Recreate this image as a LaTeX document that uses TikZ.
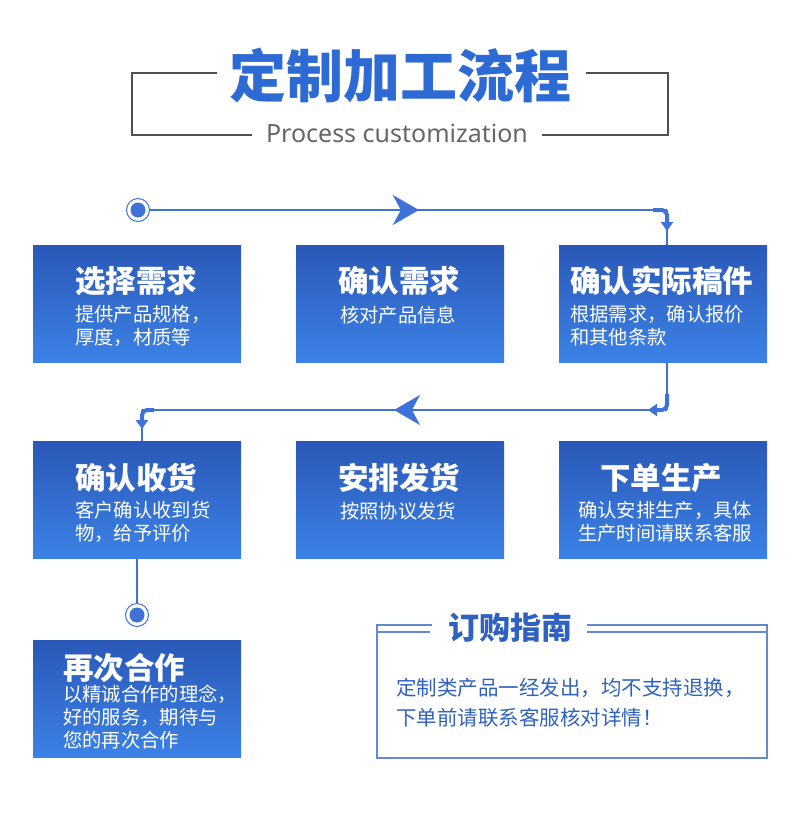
\documentclass[tikz,border=0pt]{standalone}
\usepackage{fontspec}
\setmainfont{Noto Sans CJK SC}
\newfontfamily\latinfont{Noto Sans}
\usetikzlibrary{positioning,arrows.meta,decorations.markings}
\definecolor{bluedark}{HTML}{2A58B8}
\definecolor{bluelight}{HTML}{3C82E6}
\definecolor{flowline}{HTML}{3F72D8}
\definecolor{titleblue}{HTML}{2D6AD4}
\definecolor{framegray}{HTML}{505050}
\definecolor{guideblue}{HTML}{2F62C0}

\begin{document}
\begin{tikzpicture}[x=1pt,y=-1pt,
  stepbox/.style={rectangle,minimum width=208pt,minimum height=117pt,inner sep=0pt,
    top color=bluedark,bottom color=bluelight,draw=none},
  boxtitle/.style={anchor=base west,inner sep=0pt,text=white,
    font=\fontsize{30.5}{32}\selectfont\bfseries},
  boxsub/.style={anchor=base west,inner sep=0pt,text=white,align=left,
    font=\fontsize{19.3}{22.5}\selectfont},
  flow/.style={draw=flowline,line width=1.4pt},
  turnarrow/.style={draw=flowline,line width=4pt,rounded corners=5pt,
    -{Triangle[length=9pt,width=12pt]}},
  midarrow/.style={postaction={decorate},decoration={markings,
    mark=at position #1 with {\arrow[flowline]{Stealth[length=26pt,width=30pt,inset=8pt]}}}},
  dotring/.style={circle,draw=flowline,line width=1pt,fill=white,minimum size=23pt,inner sep=0pt,
    path picture={\fill[flowline] (path picture bounding box.center) circle (7.5pt);}},
  frame/.style={draw=framegray,line width=2pt},
  guide/.style={draw=guideblue!75,line width=1.2pt}]

\useasboundingbox (0,0) rectangle (800,813);

% heading
\node[inner sep=0pt,text=titleblue,font=\fontsize{57}{60}\selectfont\bfseries] (title) at (400,75) {定制加工流程};
\node[inner sep=0pt,text=black!60,font=\latinfont\fontsize{25}{28}\selectfont] (eng) at (397,133) {Process customization};
\coordinate (fa) at (217,73);
\coordinate (fb) at (252,135);
\coordinate (fc) at (586,73);
\coordinate (fd) at (542,135);
\draw[frame] (fa) -- (132,73) -- (132,135) -- (fb);
\draw[frame] (fc) -- (668,73) -- (668,135) -- (fd);

% steps
\node[stepbox] (b1) at (137,303.5) {};
\node[stepbox] (b2) at (400,303.5) {};
\node[stepbox] (b3) at (663,303.5) {};
\node[stepbox] (b4) at (137,500) {};
\node[stepbox] (b5) at (400,500) {};
\node[stepbox] (b6) at (663,500) {};
\node[stepbox] (b7) at (137,699) {};

% multi-line texts sit on the baseline of their last line
\node[boxtitle] (t1) at (75,292) {选择需求};
\node[boxsub] (s1) at (75,344) {提供产品规格，\\厚度，材质等};
\node[boxtitle] (t2) at (338,292) {确认需求};
\node[boxsub] (s2) at (340,322) {核对产品信息};
\node[boxtitle] (t3) at (570,292) {确认实际稿件};
\node[boxsub] (s3) at (570,344) {根据需求，确认报价\\和其他条款};
\node[boxtitle] (t4) at (75,489) {确认收货};
\node[boxsub] (s4) at (75,540) {客户确认收到货\\物，给予评价};
\node[boxtitle] (t5) at (338,489) {安排发货};
\node[boxsub] (s5) at (340,518) {按照协议发货};
\node[boxtitle] (t6) at (600,489) {下单生产};
\node[boxsub] (s6) at (578,540) {确认安排生产，具体\\生产时间请联系客服};
\node[boxtitle] (t7) at (63,679) {再次合作};
\node[boxsub,font=\fontsize{19.3}{23}\selectfont] (s7) at (63,747) {以精诚合作的理念，\\好的服务，期待与\\您的再次合作};

% flow lines
\node[dotring] (c1) at (138,210) {};
\node[dotring] (c2) at (137,615) {};
\coordinate (k1) at (667,210);
\coordinate (k2) at (667,410);
\coordinate (k3) at (142,410);

\draw[flow,midarrow=0.52] (c1) -- (k1);
\draw[flow] (k1) -- (b3.north -| k1);
\draw[turnarrow] (653,210) -| (667,231);

\draw[flow] (b3.south -| k2) -- (k2);
\draw[flow,midarrow=0.52] (k2) -- (k3);
\draw[flow] (k3) -- (b4.north -| k3);
\draw[turnarrow] (667,394) |- (648,410);
\draw[turnarrow] (154,410) -| (142,429);

\draw[flow] (b4.south -| c2) -- (c2);

% guide
\node[inner sep=0pt,text=guideblue,font=\fontsize{31}{33}\selectfont\bfseries] (gt) at (510,628) {订购指南};
\draw[guide] (432,625) -- (377,625) -- (377,758) -- (767,758) -- (767,625) -- (587,625);
\draw[guide] (377,632) -- (430,632);
\draw[guide] (587,632) -- (767,632);
\node[anchor=base west,inner sep=0pt,text=guideblue,font=\fontsize{20.5}{22}\selectfont] (g1) at (396,695) {定制类产品一经发出，均不支持退换，};
\node[anchor=base west,inner sep=0pt,text=guideblue,font=\fontsize{20.5}{22}\selectfont] (g2) at (396,725) {下单前请联系客服核对详情！};
\end{tikzpicture}
\end{document}
